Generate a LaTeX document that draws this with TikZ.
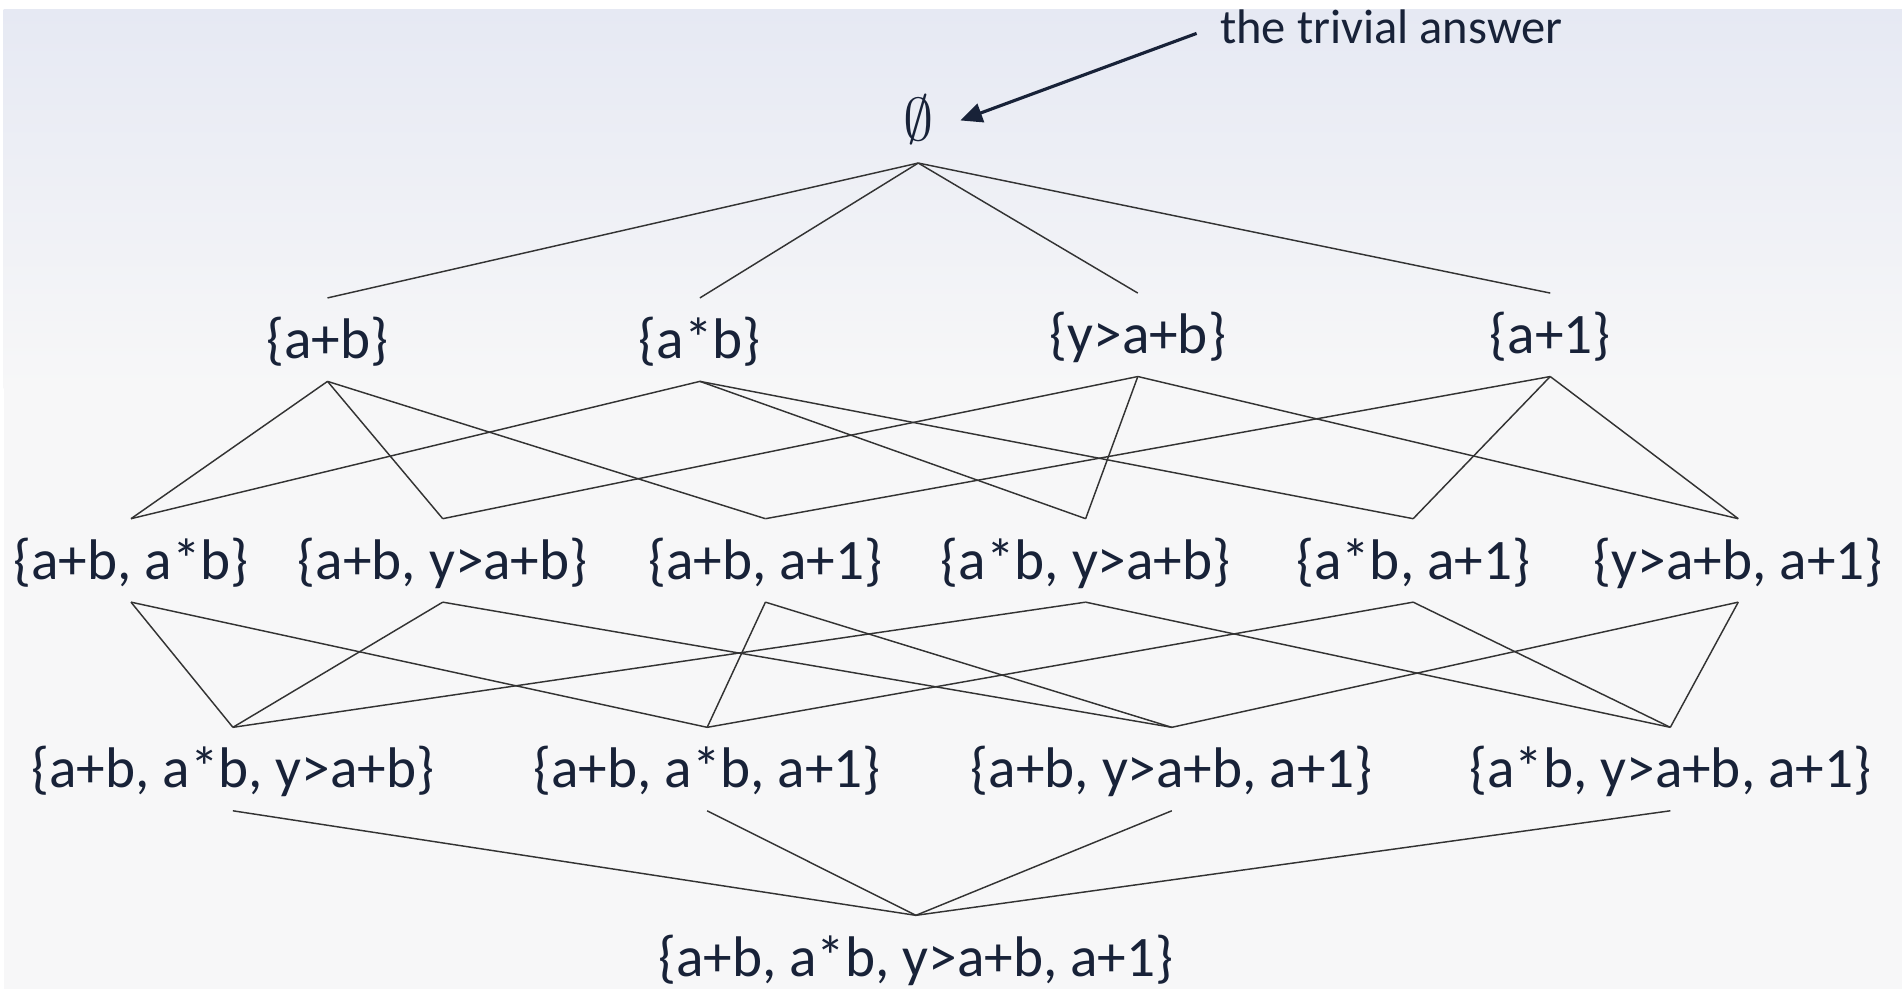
\documentclass[tikz,border=0pt]{standalone}
\usepackage{fontspec}
\setmainfont{Carlito}
\usetikzlibrary{arrows.meta}
\definecolor{ink}{RGB}{24,34,56}
\definecolor{bgtop}{RGB}{230,233,243}
\definecolor{bgbot}{RGB}{247,247,248}

\begin{document}
\begin{tikzpicture}[x=0.5pt,y=-0.5pt,
  set/.style={text=ink,font=\fontsize{23.6}{28}\selectfont,inner xsep=2pt,inner ysep=0pt,text height=24.8pt,text depth=9.2pt},
  note/.style={text=ink,font=\fontsize{20}{24}\selectfont,inner sep=2pt},
  link/.style={line width=0.6pt,draw=black!80},
  pointer/.style={-{Triangle[length=9pt,width=8pt]},line width=1.3pt,ink}
]
  \useasboundingbox (0,0) rectangle (1568,815);
  \fill[white] (0,0) rectangle (1568,815);
  \shade[top color=bgtop,bottom color=bgbot] (3,8) rectangle (1568,320);
  \fill[bgbot] (3,319) rectangle (1568,815);

  \node[set,inner xsep=10pt] (empty) at (757,100) {$\emptyset$};
  \node[note] (trivial) at (1147,22) {the trivial answer};

  \node[set] (ab) at (270,280) {\{a+b\}};
  \node[set] (mb) at (577,280) {\{a*b\}};
  \node[set] (y) at (938,276) {\{y>a+b\}};
  \node[set] (one) at (1278,276) {\{a+1\}};

  \node[set] (abmb) at (108,462) {\{a+b, a*b\}};
  \node[set] (aby) at (365,462) {\{a+b, y>a+b\}};
  \node[set] (abone) at (631,462) {\{a+b, a+1\}};
  \node[set] (mby) at (895,462) {\{a*b, y>a+b\}};
  \node[set] (mbone) at (1165,462) {\{a*b, a+1\}};
  \node[set] (yone) at (1433,462) {\{y>a+b, a+1\}};

  \node[set] (abmby) at (192,634) {\{a+b, a*b, y>a+b\}};
  \node[set] (abmbone) at (583,634) {\{a+b, a*b, a+1\}};
  \node[set] (abyone) at (966,634) {\{a+b, y>a+b, a+1\}};
  \node[set] (mbyone) at (1377,634) {\{a*b, y>a+b, a+1\}};

  \node[set] (all) at (755,789) {\{a+b, a*b, y>a+b, a+1\}};

  \foreach \s in {ab,mb,y,one}
    \draw[link] (empty.south) -- (\s.north);
  \foreach \u/\v in {ab/abmb,ab/aby,ab/abone,mb/abmb,mb/mby,mb/mbone,
                     y/aby,y/mby,y/yone,one/abone,one/mbone,one/yone}
    \draw[link] (\u.south) -- (\v.north);
  \foreach \u/\v in {abmb/abmby,abmb/abmbone,aby/abmby,aby/abyone,
                     abone/abmbone,abone/abyone,mby/abmby,mby/mbyone,
                     mbone/abmbone,mbone/mbyone,yone/abyone,yone/mbyone}
    \draw[link] (\u.south) -- (\v.north);
  \foreach \s in {abmby,abmbone,abyone,mbyone}
    \draw[link] (\s.south) -- (all.north);

  \draw[pointer,shorten <=8pt,shorten >=1pt] (trivial.west) -- (empty.east);
\end{tikzpicture}
\end{document}
